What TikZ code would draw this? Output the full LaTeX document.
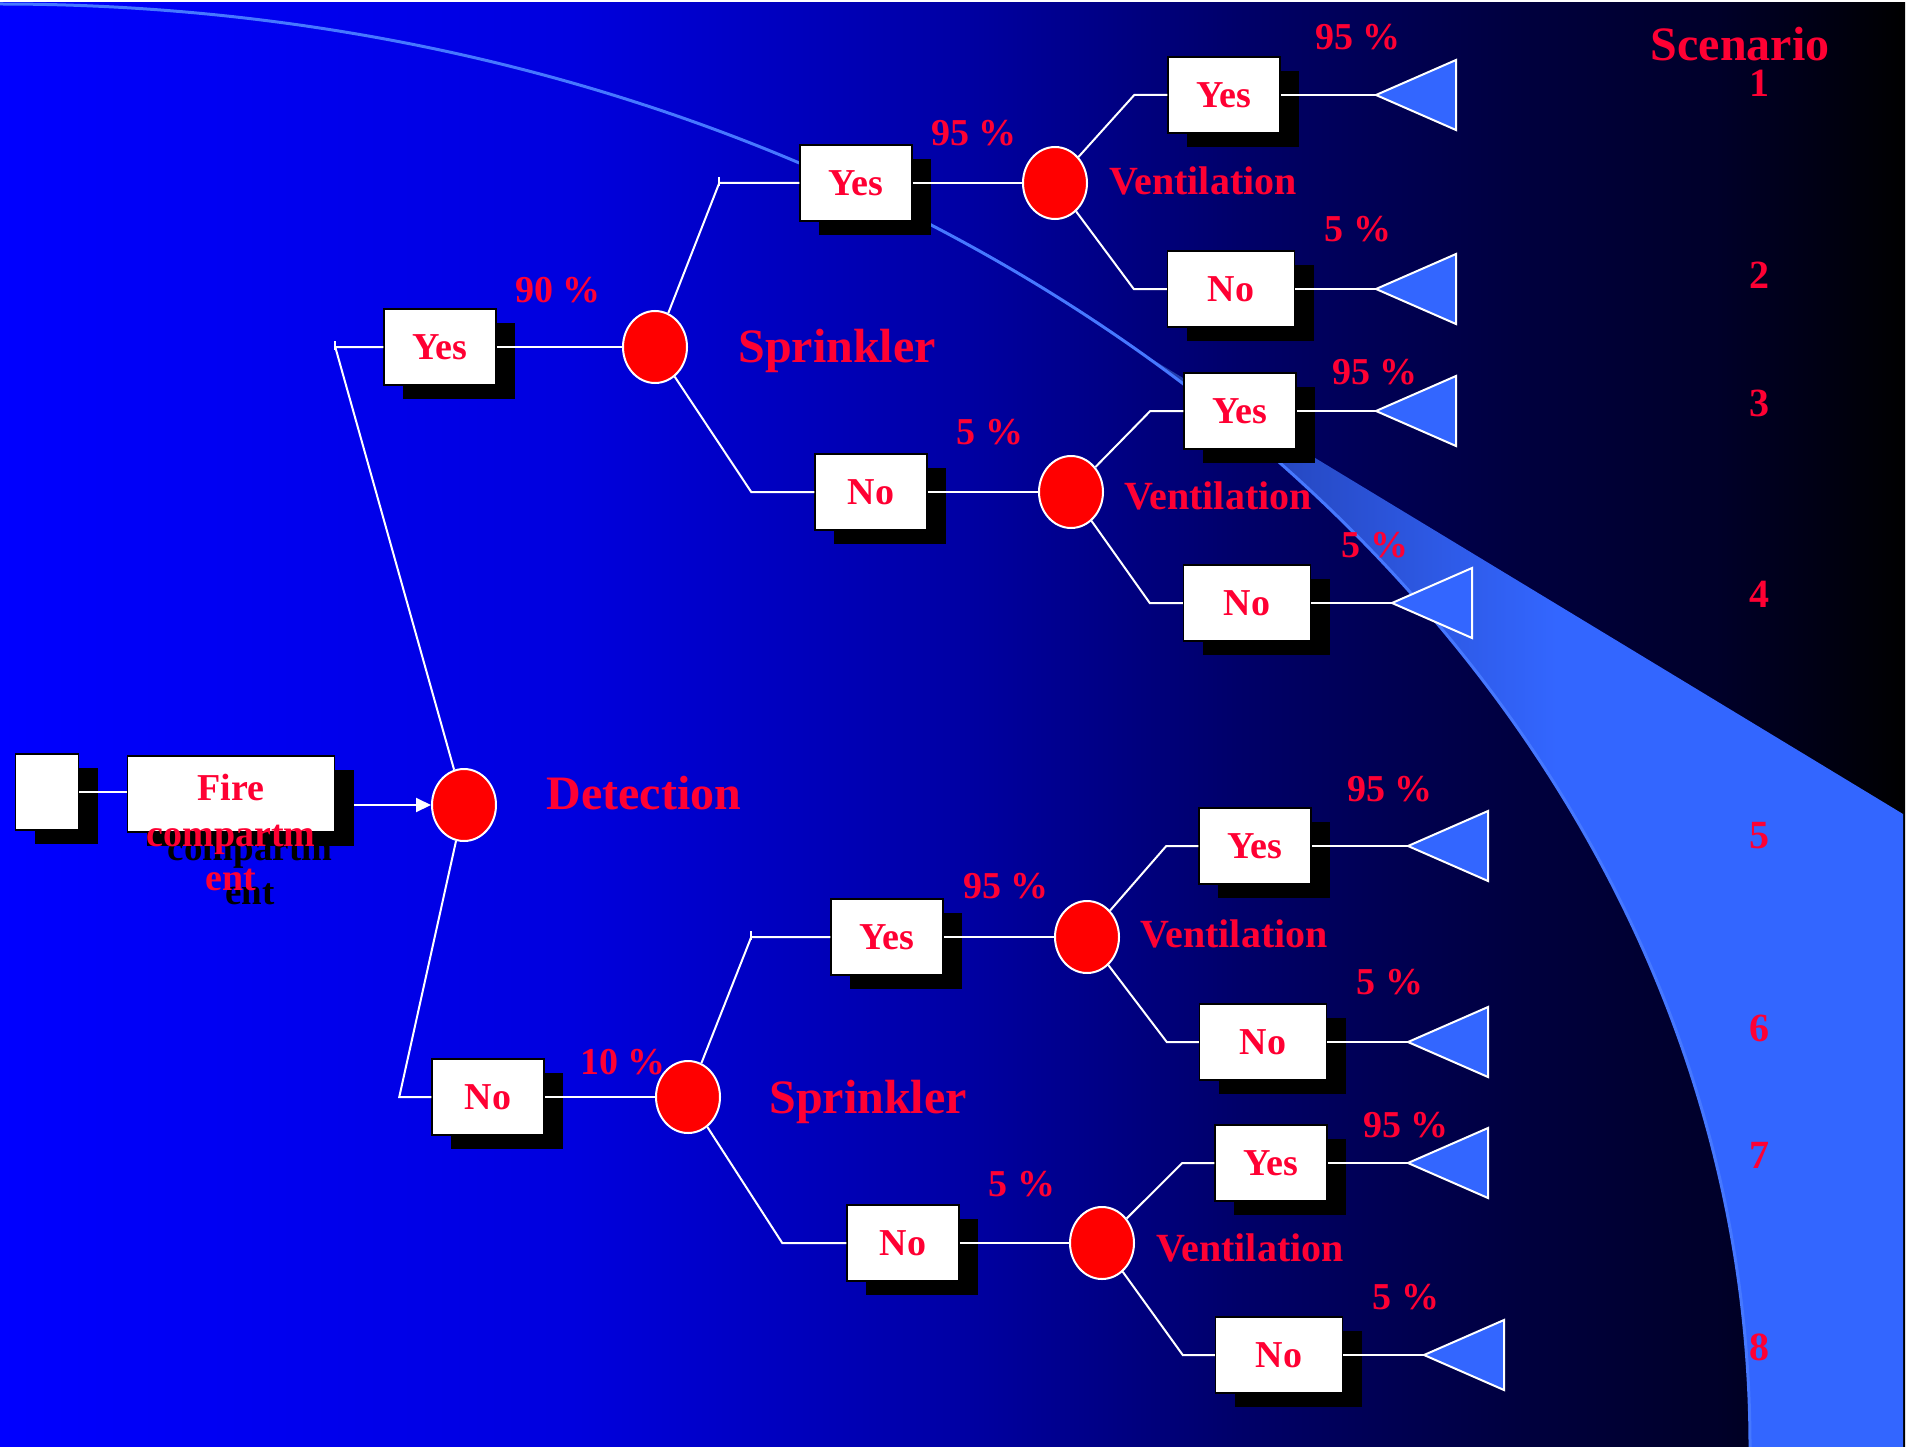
\documentclass[tikz,border=0pt]{standalone}
\usepackage{fontspec}
\setmainfont{Liberation Serif}
\usetikzlibrary{shapes.geometric,shadows,arrows.meta}
\definecolor{labred}{RGB}{255,0,51}
\definecolor{leafblue}{RGB}{51,102,255}
\definecolor{swoosh}{RGB}{70,120,255}
\definecolor{bgA}{RGB}{0,0,255}
\definecolor{bgB}{RGB}{0,0,222}
\definecolor{bgC}{RGB}{0,0,165}
\definecolor{bgD}{RGB}{0,0,105}
\definecolor{bgE}{RGB}{0,0,62}
\definecolor{bgF}{RGB}{0,0,42}
\definecolor{bgG}{RGB}{0,0,22}
\definecolor{bandA}{RGB}{32,58,165}
\definecolor{bandB}{RGB}{51,102,255}
\pgfdeclarehorizontalshading{slidebg}{100bp}{color(0bp)=(bgA); color(25bp)=(bgA); color(40bp)=(bgB); color(50bp)=(bgC); color(57.5bp)=(bgD); color(65bp)=(bgE); color(70bp)=(bgF); color(72.5bp)=(bgG); color(75bp)=(black); color(100bp)=(black)}
\pgfdeclarehorizontalshading{bandbg}{100bp}{color(0bp)=(bandA); color(25bp)=(bandA); color(52bp)=(bandB); color(100bp)=(bandB)}

\begin{document}
\begin{tikzpicture}[x=1pt,y=-1pt]
\tikzstyle{every node}+=[inner sep=0pt]
\tikzstyle{box}=[draw=black,line width=1.5pt,fill=white,minimum width=112pt,minimum height=76pt,text=labred,font=\fontsize{38}{44}\selectfont\bfseries,drop shadow={shadow xshift=19pt,shadow yshift=-14pt,fill=black,opacity=1}]
\tikzstyle{wide box}=[box,minimum width=127pt]
\tikzstyle{fork}=[ellipse,draw=white,line width=2pt,fill=red,minimum width=64pt,minimum height=72pt]
\tikzstyle{wire}=[white,line width=2pt]
\tikzstyle{leaf}=[draw=white,line width=2pt,fill=leafblue]
\tikzstyle{pct}=[text=labred,font=\fontsize{38}{44}\selectfont\bfseries]
\tikzstyle{num}=[text=labred,font=\fontsize{40}{46}\selectfont\bfseries]
\tikzstyle{vent}=[text=labred,font=\fontsize{40}{46}\selectfont\bfseries]
\tikzstyle{event}=[text=labred,font=\fontsize{48}{56}\selectfont\bfseries]
\useasboundingbox (0,0) rectangle (1910,1447);
\fill [white] (0,0) rectangle (1910,1447);
\shade [shading=slidebg] (0,3) rectangle (1905,1447);
\shade [shading=bandbg] (1150,358) -- (1903,814) -- (1903,1447) -- (1750,1447) arc [start angle=0,end angle=-48.9,x radius=1750,y radius=1443] -- cycle;
\draw [swoosh,line width=3pt] (0,4) arc [start angle=-90,end angle=0,x radius=1750,y radius=1443];
\node [box,minimum width=63pt] (start) at (47,792) {};
\node [text=black,font=\fontsize{37}{44}\selectfont\bfseries,align=center,anchor=base] (fireshade) at (250,904) {compartm\\ent};
\node [box,minimum width=207pt,text depth=14pt] (fire) at (231,794) {Fire};
\node [pct,align=center,anchor=base] (firetext) at (231,890) {compartm\\ent};
\node [fork] (D) at (464,805) {};
\node [event] (detlab) at (644,793) {Detection};
\node [box] (DY) at (440,347) {Yes};
\node [pct] (p90) at (558,290) {90 \%};
\node [fork] (S1) at (655,347) {};
\node [event] (spr1) at (837,351) {Sprinkler};
\node [box] (SY1) at (856,183) {Yes};
\node [pct] (p1) at (974,133) {95 \%};
\node [fork] (V1) at (1055,183) {};
\node [vent] (ven1) at (1203,181) {Ventilation};
\node [box] (L1) at (1224,95) {Yes};
\node [pct] (q1) at (1358,37) {95 \%};
\coordinate (t1) at (1376,95);
\node [wide box] (L2) at (1231,289) {No};
\node [pct] (q2) at (1358,229) {5 \%};
\coordinate (t2) at (1376,289);
\node [box] (SN1) at (871,492) {No};
\node [pct] (p2) at (990,432) {5 \%};
\node [fork] (V2) at (1071,492) {};
\node [vent] (ven2) at (1218,496) {Ventilation};
\node [box] (L3) at (1240,411) {Yes};
\node [pct] (q3) at (1375,372) {95 \%};
\coordinate (t3) at (1376,411);
\node [wide box] (L4) at (1247,603) {No};
\node [pct] (q4) at (1375,545) {5 \%};
\coordinate (t4) at (1392,603);
\node [box] (DN) at (488,1097) {No};
\node [pct] (p10) at (623,1062) {10 \%};
\node [fork] (S2) at (688,1097) {};
\node [event] (spr2) at (868,1102) {Sprinkler};
\node [box] (SY2) at (887,937) {Yes};
\node [pct] (p3) at (1006,886) {95 \%};
\node [fork] (V3) at (1087,937) {};
\node [vent] (ven3) at (1234,934) {Ventilation};
\node [box] (L5) at (1255,846) {Yes};
\node [pct] (q5) at (1390,789) {95 \%};
\coordinate (t5) at (1408,846);
\node [wide box] (L6) at (1263,1042) {No};
\node [pct] (q6) at (1390,982) {5 \%};
\coordinate (t6) at (1408,1042);
\node [box] (SN2) at (903,1243) {No};
\node [pct] (p4) at (1022,1184) {5 \%};
\node [fork] (V4) at (1102,1243) {};
\node [vent] (ven4) at (1250,1248) {Ventilation};
\node [box] (L7) at (1271,1163) {Yes};
\node [pct] (q7) at (1406,1125) {95 \%};
\coordinate (t7) at (1408,1163);
\node [wide box] (L8) at (1279,1355) {No};
\node [pct] (q8) at (1406,1297) {5 \%};
\coordinate (t8) at (1424,1355);
\node [event] (scen) at (1740,44) {Scenario};
\node [num] (n1) at (1759,83) {1};
\node [num] (n2) at (1759,275) {2};
\node [num] (n3) at (1759,403) {3};
\node [num] (n4) at (1759,594) {4};
\node [num] (n5) at (1759,836) {5};
\node [num] (n6) at (1759,1028) {6};
\node [num] (n7) at (1759,1155) {7};
\node [num] (n8) at (1759,1347) {8};
\draw [wire] (start) -- (start -| fire.west);
\draw [wire,-{Triangle[length=15pt,width=14pt]},shorten <=19pt] (fire.east |- D) -- (D);
\draw [wire] (D) -- ([xshift=-48pt]DY.west) -- (DY);
\draw [wire] ([xshift=-48pt]DY.west) ++(0,-6) -- ++(0,9);
\draw [wire] (D) -- ([xshift=-32pt]DN.west) -- (DN);
\draw [wire] (DY) -- (S1);
\draw [wire] (DN) -- (S2);
\draw [wire] (S1) -- ([xshift=-80pt]SY1.west) -- (SY1);
\draw [wire] ([xshift=-80pt]SY1.west) ++(0,-6) -- ++(0,9);
\draw [wire] (S1) -- ([xshift=-63pt]SN1.west) -- (SN1);
\draw [wire] (S2) -- ([xshift=-79pt]SY2.west) -- (SY2);
\draw [wire] ([xshift=-79pt]SY2.west) ++(0,-6) -- ++(0,9);
\draw [wire] (S2) -- ([xshift=-64pt]SN2.west) -- (SN2);
\draw [wire] (SY1) -- (V1);
\draw [wire] (SN1) -- (V2);
\draw [wire] (SY2) -- (V3);
\draw [wire] (SN2) -- (V4);
\draw [wire] (V1) -- ([xshift=-33pt]L1.west) -- (L1);
\draw [wire] (V1) -- ([xshift=-33pt]L2.west) -- (L2);
\draw [wire] (V2) -- ([xshift=-33pt]L3.west) -- (L3);
\draw [wire] (V2) -- ([xshift=-33pt]L4.west) -- (L4);
\draw [wire] (V3) -- ([xshift=-32pt]L5.west) -- (L5);
\draw [wire] (V3) -- ([xshift=-32pt]L6.west) -- (L6);
\draw [wire] (V4) -- ([xshift=-32pt]L7.west) -- (L7);
\draw [wire] (V4) -- ([xshift=-32pt]L8.west) -- (L8);
\draw [wire] (L1) -- (t1);
\draw [leaf] (t1) -- ++(80,-35) -- ++(0,70) -- cycle;
\draw [wire] (L2) -- (t2);
\draw [leaf] (t2) -- ++(80,-35) -- ++(0,70) -- cycle;
\draw [wire] (L3) -- (t3);
\draw [leaf] (t3) -- ++(80,-35) -- ++(0,70) -- cycle;
\draw [wire] (L4) -- (t4);
\draw [leaf] (t4) -- ++(80,-35) -- ++(0,70) -- cycle;
\draw [wire] (L5) -- (t5);
\draw [leaf] (t5) -- ++(80,-35) -- ++(0,70) -- cycle;
\draw [wire] (L6) -- (t6);
\draw [leaf] (t6) -- ++(80,-35) -- ++(0,70) -- cycle;
\draw [wire] (L7) -- (t7);
\draw [leaf] (t7) -- ++(80,-35) -- ++(0,70) -- cycle;
\draw [wire] (L8) -- (t8);
\draw [leaf] (t8) -- ++(80,-35) -- ++(0,70) -- cycle;
\end{tikzpicture}
\end{document}
